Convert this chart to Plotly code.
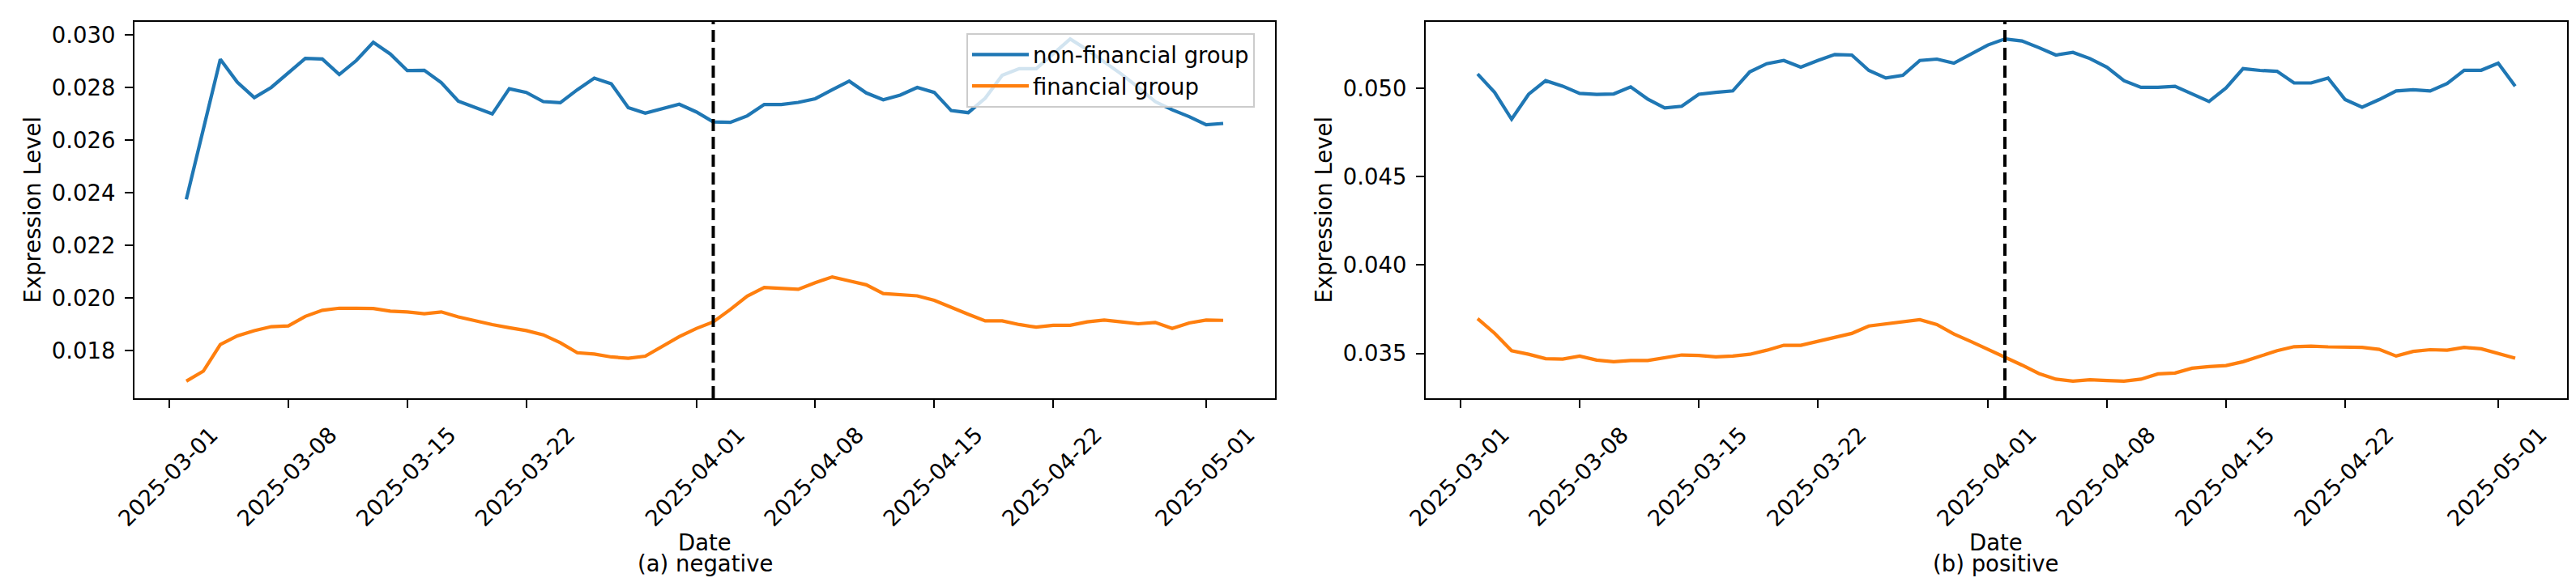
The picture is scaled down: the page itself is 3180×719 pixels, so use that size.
import pandas as pd
import plotly.graph_objects as go

# ---------------- data ----------------
START_DATE = "2025-03-02"
N_DAYS = 62
EVENT_DATE = "2025-04-02"

neg_nonfin = [
    0.02376, 0.02642, 0.02908, 0.02821, 0.02762, 0.02801, 0.02854, 0.02911, 0.02909, 0.02850,
    0.02903, 0.02972, 0.02928, 0.02865, 0.02866, 0.02819, 0.02749, 0.02724, 0.02700, 0.02796,
    0.02782, 0.02747, 0.02743, 0.02792, 0.02836, 0.02815, 0.02724, 0.02703, 0.02721, 0.02737,
    0.02708, 0.02670, 0.02668, 0.02693, 0.02736, 0.02736, 0.02744, 0.02758, 0.02792, 0.02825,
    0.02780, 0.02754, 0.02772, 0.02801, 0.02782, 0.02713, 0.02705, 0.02760, 0.02847, 0.02872,
    0.02872, 0.02928, 0.02985, 0.02944, 0.02898, 0.02852, 0.02801, 0.02747, 0.02716, 0.02690,
    0.02659, 0.02664,
]
neg_fin = [
    0.01685, 0.01723, 0.01824, 0.01857, 0.01877, 0.01892, 0.01895, 0.01931, 0.01954, 0.01962,
    0.01962, 0.01961, 0.01951, 0.01948, 0.01941, 0.01948, 0.01929, 0.01913, 0.01900, 0.01888,
    0.01877, 0.01861, 0.01831, 0.01793, 0.01788, 0.01777, 0.01772, 0.01780, 0.01816, 0.01854,
    0.01885, 0.01910, 0.01957, 0.02008, 0.02041, 0.02036, 0.02034, 0.02059, 0.02081, 0.02066,
    0.02051, 0.02018, 0.02013, 0.02009, 0.01992, 0.01964, 0.01939, 0.01914, 0.01914, 0.01900,
    0.01890, 0.01897, 0.01897, 0.01910, 0.01917, 0.01910, 0.01903, 0.01908, 0.01885, 0.01906,
    0.01917, 0.01916,
]
pos_nonfin = [
    0.05081, 0.04977, 0.04825, 0.04966, 0.05043, 0.05012, 0.04971, 0.04965, 0.04968, 0.05008,
    0.04939, 0.04889, 0.04898, 0.04966, 0.04977, 0.04985, 0.05093, 0.05139, 0.05157, 0.05119,
    0.05157, 0.05191, 0.05188, 0.05101, 0.05058, 0.05073, 0.05157, 0.05165, 0.05142, 0.05195,
    0.05245, 0.05279, 0.05268, 0.05230, 0.05188, 0.05203, 0.05168, 0.05119, 0.05043, 0.05005,
    0.05005, 0.05011, 0.04966, 0.04925, 0.05002, 0.05111, 0.05101, 0.05096, 0.05030, 0.05030,
    0.05058, 0.04936, 0.04893, 0.04936, 0.04985, 0.04992, 0.04985, 0.05027, 0.05102, 0.05102,
    0.05142, 0.05012,
]
pos_fin = [
    0.03697, 0.03614, 0.03515, 0.03495, 0.03470, 0.03468, 0.03485, 0.03462, 0.03453, 0.03460,
    0.03460, 0.03476, 0.03491, 0.03488, 0.03480, 0.03485, 0.03495, 0.03518, 0.03546, 0.03546,
    0.03567, 0.03590, 0.03613, 0.03655, 0.03668, 0.03681, 0.03691, 0.03663, 0.03610, 0.03567,
    0.03523, 0.03480, 0.03434, 0.03386, 0.03354, 0.03343, 0.03351, 0.03346, 0.03343, 0.03354,
    0.03384, 0.03389, 0.03416, 0.03425, 0.03431, 0.03453, 0.03483, 0.03515, 0.03538, 0.03541,
    0.03537, 0.03537, 0.03534, 0.03523, 0.03485, 0.03511, 0.03521, 0.03518, 0.03534, 0.03526,
    0.03500, 0.03473,
]

x_tick_labels = ["2025-03-01", "2025-03-08", "2025-03-15", "2025-03-22",
                 "2025-04-01", "2025-04-08", "2025-04-15", "2025-04-22", "2025-05-01"]
neg_y_ticks = [0.018, 0.020, 0.022, 0.024, 0.026, 0.028, 0.030]
pos_y_ticks = [0.035, 0.040, 0.045, 0.050]

series_names = ["non-financial group", "financial group"]
panel_titles = ["(a) negative", "(b) positive"]
colors = ["#1f77b4", "#ff7f0e"]

dates = pd.date_range(START_DATE, periods=N_DAYS, freq="D")

# ---------------- figure ----------------
W, H = 3180, 719
FONT = "DejaVu Sans"
FS = 27.5

fig = go.Figure()

panels = [
    (neg_nonfin, neg_fin, "x", "y", True),
    (pos_nonfin, pos_fin, "x2", "y2", False),
]
for nonfin, fin, xa, ya, show in panels:
    for vals, name, col in zip([nonfin, fin], series_names, colors):
        fig.add_trace(go.Scatter(
            x=dates, y=vals, mode="lines", name=name,
            line=dict(color=col, width=4.2),
            xaxis=xa, yaxis=ya, showlegend=show,
        ))

# x range with matplotlib-like 5% margins
span = dates[-1] - dates[0]
x_range = [dates[0] - span * 0.05, dates[-1] + span * 0.05]

def y_range(a, b):
    lo = min(min(a), min(b))
    hi = max(max(a), max(b))
    m = (hi - lo) * 0.05
    return [lo - m, hi + m]

xdom1 = [158 / W, 1566 / W]
xdom2 = [1752 / W, 3161 / W]
ydom = [1 - 484 / H, 1 - 19 / H]

axis_common = dict(
    showline=True, mirror=True, linecolor="black", linewidth=2.2,
    ticks="outside", ticklen=10, tickwidth=2.2, tickcolor="black",
    showgrid=False, zeroline=False,
    tickfont=dict(family=FONT, size=FS, color="black"),
)

xaxis_common = dict(
    axis_common, type="date", range=x_range,
    tickmode="array", tickvals=x_tick_labels, ticktext=x_tick_labels,
    tickangle=-45, ticklabelshift=52, ticklabelstandoff=6,
)

fig.update_layout(
    width=W, height=H,
    margin=dict(l=0, r=0, t=0, b=0, autoexpand=False),
    paper_bgcolor="white", plot_bgcolor="white",
    font=dict(family=FONT, size=FS, color="black"),
    xaxis=dict(xaxis_common, domain=xdom1, anchor="y"),
    yaxis=dict(axis_common, domain=ydom, anchor="x",
               range=y_range(neg_nonfin, neg_fin),
               tickmode="array", tickvals=neg_y_ticks, tickformat=".3f",
               ticklabelstandoff=6),
    xaxis2=dict(xaxis_common, domain=xdom2, anchor="y2"),
    yaxis2=dict(axis_common, domain=ydom, anchor="x2",
                range=y_range(pos_nonfin, pos_fin),
                tickmode="array", tickvals=pos_y_ticks, tickformat=".3f",
                ticklabelstandoff=6),
    legend=dict(
        x=1185 / W, y=1 - 33 / H, xanchor="left", yanchor="top",
        bgcolor="rgba(255,255,255,0.8)", bordercolor="#cccccc", borderwidth=2,
        font=dict(family=FONT, size=FS, color="black"),
        tracegroupgap=0, itemwidth=70,
    ),
    showlegend=True,
)

# vertical event lines
for xa, ya in [("x", "y"), ("x2", "y2")]:
    fig.add_shape(
        type="line", xref=xa, yref=f"{ya} domain",
        x0=EVENT_DATE, x1=EVENT_DATE, y0=0, y1=1,
        line=dict(color="black", width=4, dash="15px,7px"),
    )

# axis titles and panel captions
centers = [(xdom1[0] + xdom1[1]) / 2, (xdom2[0] + xdom2[1]) / 2]
ylabel_x = [31 / W, 1625 / W]
ymid = (ydom[0] + ydom[1]) / 2
for cx, lx, cap in zip(centers, ylabel_x, panel_titles):
    fig.add_annotation(text="Date", x=cx, y=1 - 662 / H, xref="paper", yref="paper",
                       showarrow=False, xanchor="center", yanchor="middle",
                       font=dict(family=FONT, size=FS, color="black"))
    fig.add_annotation(text=cap, x=cx, y=1 - 688 / H, xref="paper", yref="paper",
                       showarrow=False, xanchor="center", yanchor="middle",
                       font=dict(family=FONT, size=FS, color="black"))
    fig.add_annotation(text="Expression Level", x=lx, y=ymid, xref="paper", yref="paper",
                       showarrow=False, xanchor="center", yanchor="middle", textangle=-90,
                       font=dict(family=FONT, size=FS, color="black"))

fig.write_html("out.html")
